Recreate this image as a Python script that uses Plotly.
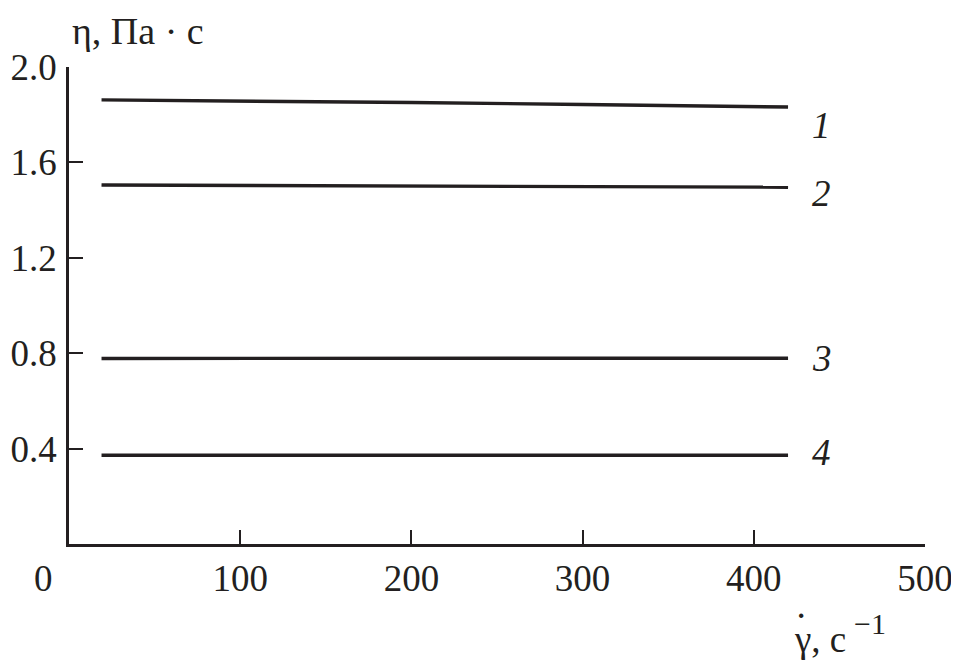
import plotly.graph_objects as go

# shear rate, 1/s
shear_rate = [19, 100, 200, 300, 420]

# viscosity, Pa*s
eta_1 = [1.862, 1.858, 1.851, 1.843, 1.832]
eta_2 = [1.505, 1.503, 1.501, 1.499, 1.496]
eta_3 = [0.778, 0.778, 0.778, 0.779, 0.779]
eta_4 = [0.372, 0.372, 0.372, 0.372, 0.372]

curve_labels = ['1', '2', '3', '4']
x_ticks = [100, 200, 300, 400, 500]
y_ticks = [0.4, 0.8, 1.2, 1.6, 2.0]

font_family = 'Liberation Serif'
ink = '#231f20'
fsize = 37

# the page body adds an 8px offset, so the figure is 8px smaller
W, H, PAD = 959, 662, 8

fig = go.Figure()
label_shift = [-18, -6, 0, 3]
for eta, lab, dy in zip([eta_1, eta_2, eta_3, eta_4], curve_labels, label_shift):
    fig.add_trace(go.Scatter(x=shear_rate, y=eta, mode='lines',
                             line=dict(color=ink, width=3.4), showlegend=False))
    # curve number, italic, right of the line end
    fig.add_annotation(x=shear_rate[-1], y=eta[-1], xref='x', yref='y',
                       text='<i>' + lab + '</i>', showarrow=False,
                       xanchor='left', yanchor='middle', xshift=22, yshift=dy,
                       font=dict(family=font_family, size=fsize, color=ink))

# y axis title
fig.add_annotation(x=0, y=1, xref='paper', yref='paper', text='η, Па · с',
                   showarrow=False, xanchor='left', yanchor='bottom',
                   xshift=2, yshift=14, borderpad=0,
                   font=dict(family=font_family, size=38, color=ink))
# x axis title, built from pieces so the dot and exponent sit right
fig.add_annotation(x=0.846, y=0, xref='paper', yref='paper', text='γ, с',
                   showarrow=False, xanchor='left', yanchor='top',
                   yshift=-74, borderpad=0,
                   font=dict(family=font_family, size=fsize, color=ink))
fig.add_annotation(x=0.846, y=0, xref='paper', yref='paper', text='−1',
                   showarrow=False, xanchor='left', yanchor='top',
                   xshift=60, yshift=-62, borderpad=0,
                   font=dict(family=font_family, size=30, color=ink))
fig.add_annotation(x=0.855, y=0, xref='paper', yref='paper', text='·',
                   showarrow=False, xanchor='center', yanchor='top',
                   yshift=-50, borderpad=0,
                   font=dict(family=font_family, size=fsize, color=ink))

fig.update_xaxes(range=[0, 500], tickvals=x_ticks, ticks='inside', ticklen=14,
                 tickwidth=2, tickcolor=ink, showline=True, linecolor=ink,
                 linewidth=2.5, showgrid=False, zeroline=False, automargin=False,
                 tickfont=dict(family=font_family, size=fsize, color=ink))
fig.update_yaxes(range=[0, 2.0], tickvals=y_ticks, tickformat='.1f',
                 ticks='inside', ticklen=14, tickwidth=2, tickcolor=ink,
                 showline=True, linecolor=ink, linewidth=2.5, showgrid=False,
                 zeroline=False, ticklabelstandoff=2, automargin=False,
                 tickfont=dict(family=font_family, size=fsize, color=ink))

# origin label sits left of the corner
fig.add_annotation(x=0, y=0, xref='paper', yref='paper', text='0',
                   showarrow=False, xanchor='center', yanchor='top',
                   xshift=-26, yshift=-12,
                   font=dict(family=font_family, size=fsize, color=ink))

fig.update_layout(width=W - PAD, height=H - PAD,
                  margin=dict(l=69 - PAD, r=34, t=67 - PAD, b=118),
                  plot_bgcolor='white', paper_bgcolor='white')

fig.write_html('out.html')
